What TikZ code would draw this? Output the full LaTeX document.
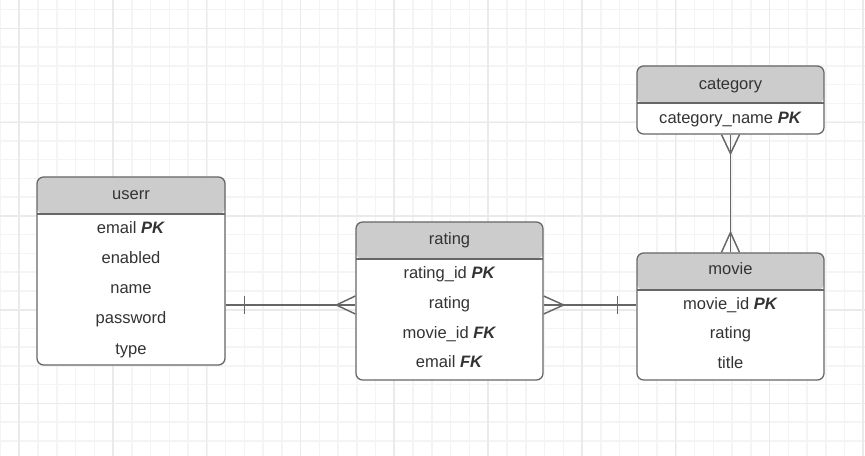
\documentclass[tikz,border=0pt]{standalone}
\usepackage{fontspec}
\setmainfont{Liberation Sans}
\usetikzlibrary{calc}

\definecolor{gridlight}{HTML}{F4F4F4}
\definecolor{griddark}{HTML}{EAEAEA}
\definecolor{boxline}{HTML}{666666}
\definecolor{headfill}{HTML}{CCCCCC}
\definecolor{txt}{HTML}{333333}

\tikzset{
    tablebox/.style={draw=boxline, fill=white, line width=0.95pt, rounded corners=5pt, inner sep=0pt,
        path picture={
            \fill[headfill] (path picture bounding box.north west) rectangle ([yshift=-27.8pt]path picture bounding box.north east);
            \draw[boxline, line width=0.95pt] ([yshift=-27.8pt]path picture bounding box.north west) -- ([yshift=-27.8pt]path picture bounding box.north east);
        }},
    field/.style={text=txt, font=\fontsize{12.4}{14}\selectfont, inner sep=0pt, anchor=base},
    link/.style={draw=boxline, line width=1.1pt},
}

\begin{document}
\begin{tikzpicture}[x=0.75pt,y=-0.75pt]
        \useasboundingbox (0,0) rectangle (865,456);

        % Grid
        \draw[gridlight, line width=1.1pt]
            \foreach \k in {0,...,46} { ({0.5+\k*18.76},0) -- ++(0,456) }
            \foreach \k in {0,...,24} { (0,{9.5+\k*18.76}) -- ++(865,0) };
        \draw[griddark, line width=1.1pt]
            \foreach \k in {0,...,9} { ({19+\k*93.8},0) -- ++(0,456) }
            \foreach \k in {0,...,4} { (0,{28.5+\k*93.8}) -- ++(865,0) };

        % Tables
        \node (userr) at (131,271) [tablebox, minimum width=141pt, minimum height=141pt] {};
        \node (rating) at (449.5,301) [tablebox, minimum width=140.25pt, minimum height=118.5pt] {};
        \node (category) at (730.5,100) [tablebox, minimum width=140.25pt, minimum height=51pt] {};
        \node (movie) at (730.5,316.5) [tablebox, minimum width=140.25pt, minimum height=95.25pt] {};

        % Fields
        \node (userr-h) at (131,200) [field] {userr};
        \node (userr-1) at (131,234) [field] {email \textbf{\textit{PK}}};
        \node (userr-2) at (131,264) [field] {enabled};
        \node (userr-3) at (131,294) [field] {name};
        \node (userr-4) at (131,324) [field] {password};
        \node (userr-5) at (131,354) [field] {type};

        \node (rating-h) at (449.5,244.5) [field] {rating};
        \node (rating-1) at (449.5,279) [field] {rating\_id \textbf{\textit{PK}}};
        \node (rating-2) at (449.5,309) [field] {rating};
        \node (rating-3) at (449.5,338.5) [field] {movie\_id \textbf{\textit{FK}}};
        \node (rating-4) at (449.5,368) [field] {email \textbf{\textit{FK}}};

        \node (category-h) at (730.5,89.5) [field] {category};
        \node (category-1) at (730.5,123.5) [field] {category\_name \textbf{\textit{PK}}};

        \node (movie-h) at (730.5,275) [field] {movie};
        \node (movie-1) at (730.5,309.5) [field] {movie\_id \textbf{\textit{PK}}};
        \node (movie-2) at (730.5,339) [field] {rating};
        \node (movie-3) at (730.5,368.5) [field] {title};

        % Edges
        \coordinate (ua) at (userr.east |- 0,305);
        \coordinate (ra) at (rating.west |- 0,305);
        \draw[link] (ua) -- (ra);
        \draw[link] ($(ua)+(19,-9)$) -- ++(0,18);
        \draw[link] ($(ra)+(0,-9)$) -- ($(ra)+(-19,0)$) -- ($(ra)+(0,9)$);

        \coordinate (rb) at (rating.east |- 0,305);
        \coordinate (mb) at (movie.west |- 0,305);
        \draw[link] (rb) -- (mb);
        \draw[link] ($(rb)+(0,-9)$) -- ($(rb)+(20,0)$) -- ($(rb)+(0,9)$);
        \draw[link] ($(mb)+(-19,-9)$) -- ++(0,18);

        \draw[link] (category.south) -- (movie.north);
        \draw[link] ($(category.south)+(-9,0)$) -- ($(category.south)+(0,19)$) -- ($(category.south)+(9,0)$);
        \draw[link] ($(movie.north)+(-9,0)$) -- ($(movie.north)+(0,-20)$) -- ($(movie.north)+(9,0)$);
    \end{tikzpicture}
\end{document}
